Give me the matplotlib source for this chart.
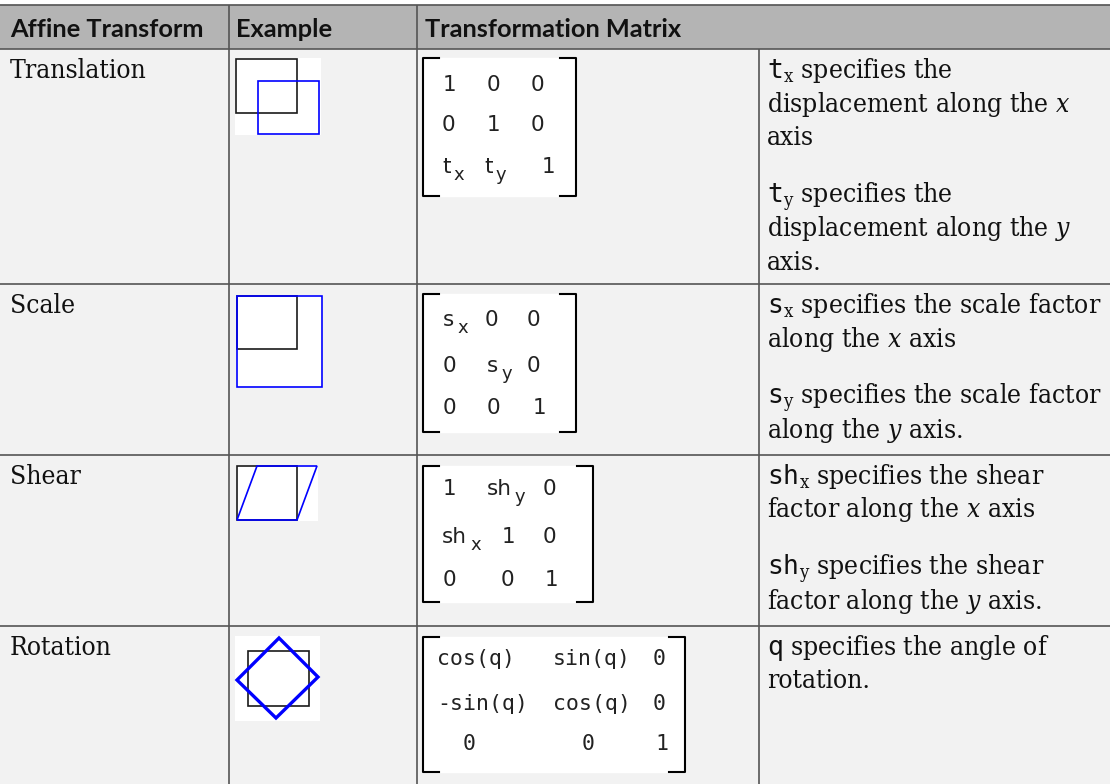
import matplotlib
matplotlib.use("Agg")
import matplotlib.pyplot as plt
from matplotlib.patches import Rectangle, Polygon

# ---- data ----
headers = ["Affine Transform", "Example", "Transformation Matrix"]
transforms = ["Translation", "Scale", "Shear", "Rotation"]

# descriptions, '' = paragraph break
descriptions = [
    [r"$\mathtt{t}_\mathrm{x}$ specifies the", "displacement along the $x$", "axis", "",
     r"$\mathtt{t}_\mathrm{y}$ specifies the", "displacement along the $y$", "axis."],
    [r"$\mathtt{s}_\mathrm{x}$ specifies the scale factor", "along the $x$ axis", "",
     r"$\mathtt{s}_\mathrm{y}$ specifies the scale factor", "along the $y$ axis."],
    [r"$\mathtt{sh}_\mathrm{x}$ specifies the shear", "factor along the $x$ axis", "",
     r"$\mathtt{sh}_\mathrm{y}$ specifies the shear", "factor along the $y$ axis."],
    [r"$\mathtt{q}$ specifies the angle of", "rotation."],
]

# matrix entries, "a_b" = a with subscript b
matrices = [
    [["1", "0", "0"], ["0", "1", "0"], ["t_x", "t_y", "1"]],
    [["s_x", "0", "0"], ["0", "s_y", "0"], ["0", "0", "1"]],
    [["1", "sh_y", "0"], ["sh_x", "1", "0"], ["0", "0", "1"]],
    [["cos(q)", "sin(q)", "0"], ["-sin(q)", "cos(q)", "0"], ["0", "0", "1"]],
]

# example shapes (pixel units inside each little picture, y down)
black_shapes = [
    [(1, 1), (62, 1), (62, 55), (1, 55)],
    [(1, 1), (61, 1), (61, 54), (1, 54)],
    [(1, 1), (61, 1), (61, 55), (1, 55)],
    [(13, 15), (74, 15), (74, 70), (13, 70)],
]
blue_shapes = [
    [(23, 23), (84, 23), (84, 76), (23, 76)],
    [(1, 1), (86, 1), (86, 92), (1, 92)],
    [(1, 55), (21, 1), (81, 1), (61, 55)],
    [(44, 2), (83, 41), (41, 82), (2, 44)],
]

# ---- layout (pixels) ----
W, H = 1110, 784
col_x = [229, 417, 759]
row_y = [5, 49, 284, 455, 626, 784]
example_boxes = [(235, 58, 86, 77), (236, 295, 87, 93), (236, 465, 82, 56), (235, 636, 85, 85)]
mat_boxes = [(423, 58, 576, 196), (423, 294, 576, 432), (423, 466, 593, 602), (423, 637, 685, 772)]
mat_x = [
    [[443, 487, 531], [442, 487, 531], [442, 484, 542]],
    [[443, 485, 527], [443, 487, 527], [443, 487, 533]],
    [[443, 487, 543], [442, 502, 543], [443, 501, 545]],
    [[437, 553, 653], [437, 553, 653], [463, 582, 655]],
]
mat_base = [[91, 131, 173], [326, 372, 414], [495, 543, 586], [665, 710, 750]]

plt.rcParams["mathtext.fontset"] = "custom"
plt.rcParams["mathtext.rm"] = "DejaVu Serif:stretch=condensed"
plt.rcParams["mathtext.it"] = "DejaVu Serif:style=italic:stretch=condensed"
plt.rcParams["mathtext.tt"] = "DejaVu Sans Mono"
plt.rcParams["mathtext.sf"] = "DejaVu Sans"

fig = plt.figure(figsize=(W / 100, H / 100), dpi=100)
ax = fig.add_axes([0, 0, 1, 1])
ax.set_xlim(0, W)
ax.set_ylim(H, 0)
ax.axis("off")

line_c = "#555555"
# backgrounds
ax.add_patch(Rectangle((0, row_y[0]), W, row_y[1] - row_y[0], color="#b4b4b4", zorder=0))
ax.add_patch(Rectangle((0, row_y[1]), W, H - row_y[1], color="#f2f2f2", zorder=0))
# grid lines
ax.hlines(row_y[:-1], 0, W, color=line_c, lw=1.2, zorder=1)
ax.vlines(col_x[:2], row_y[0], H, color=line_c, lw=1.2, zorder=1)
ax.vlines(col_x[2], row_y[1], H, color=line_c, lw=1.2, zorder=1)

# header
hdr_x = [10, 236, 425]
for x, h in zip(hdr_x, headers):
    ax.text(x, 37, h, family="Lato", weight="bold", fontsize=18.3, va="baseline", color="#111111")

body = dict(family="DejaVu Serif", fontstretch="condensed", fontsize=19, va="baseline", color="#111111")
for i, name in enumerate(transforms):
    top = row_y[i + 1]
    ax.text(10, top + 29, name, **body)

    # description lines
    y = top + 29
    for line in descriptions[i]:
        if line == "":
            y += 24
            continue
        ax.text(767, y, line, **body)
        y += 33.5

    # matrix: white box + brackets
    x0, y0, x1, y1 = mat_boxes[i]
    ax.add_patch(Rectangle((x0, y0), x1 - x0, y1 - y0, color="white", zorder=1))
    s = 16
    ax.plot([x0 + s, x0, x0, x0 + s], [y0, y0, y1, y1], color="black", lw=1.5, zorder=2)
    ax.plot([x1 - s, x1, x1, x1 - s], [y0, y0, y1, y1], color="black", lw=1.5, zorder=2)
    fam = "DejaVu Sans Mono" if i == 3 else "DejaVu Sans"
    for r in range(3):
        for c in range(3):
            base, _, sub = matrices[i][r][c].partition("_")
            bl = mat_base[i][r]
            t = ax.text(mat_x[i][r][c], bl, base, family=fam, fontsize=15.5,
                        va="baseline", ha="left", color="#222222", zorder=3)
            if sub:
                # subscript placed right of the base text, dropped below the baseline
                ax.annotate(sub, xy=(1, bl + 7), xycoords=(t, "data"), xytext=(3, 0),
                            textcoords="offset pixels", family=fam, fontsize=13,
                            va="baseline", ha="left", color="#222222", zorder=3)

    # example picture
    bx, by, bw, bh = example_boxes[i]
    ex = fig.add_axes([bx / W, 1 - (by + bh) / H, bw / W, bh / H])
    ex.set_xlim(0, bw)
    ex.set_ylim(bh, 0)
    ex.set_xticks([])
    ex.set_yticks([])
    for sp in ex.spines.values():
        sp.set_visible(False)
    ex.set_facecolor("white")
    ex.add_patch(Polygon(black_shapes[i], closed=True, fill=False, ec="#1a1a1a", lw=1.2, clip_on=False))
    ex.add_patch(Polygon(blue_shapes[i], closed=True, fill=False, ec="#0000ff",
                         lw=2.4 if i == 3 else 1.2, clip_on=False))

fig.savefig("out.png", dpi=100)
